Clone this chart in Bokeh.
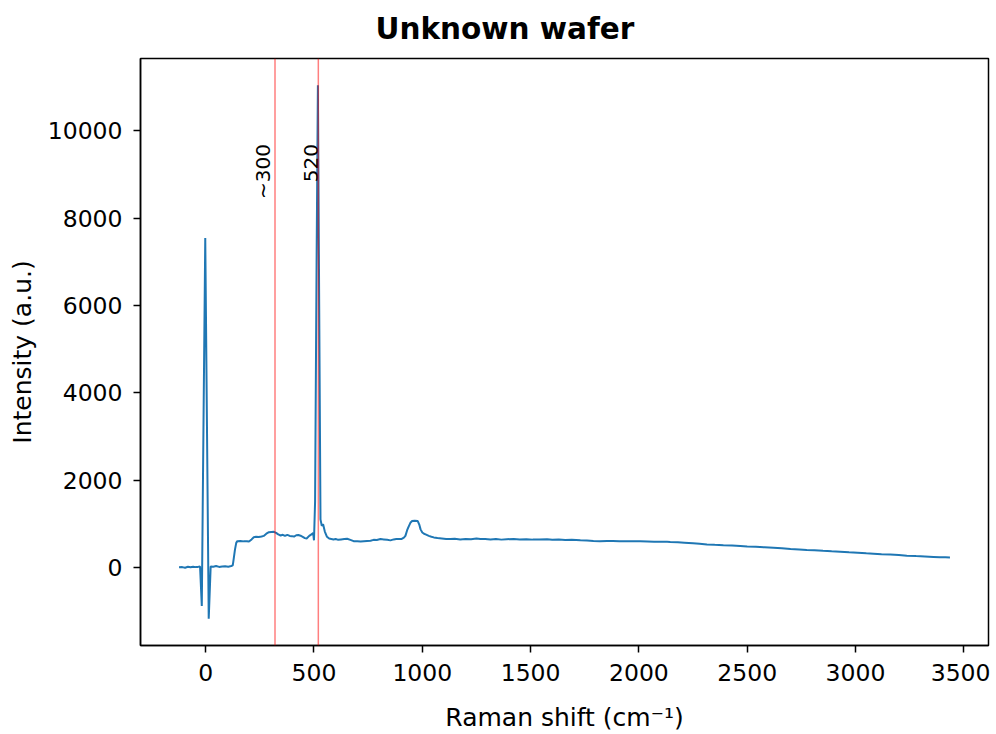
from math import pi
from bokeh.plotting import figure
from bokeh.models import Range1d, Span, SingleIntervalTicker
from bokeh.core.properties import value
from bokeh.embed import file_html
from bokeh.resources import INLINE

# ---- data ----
raman_shift = [
    -123, -108, -95, -82, -70, -58, -46, -36, -26, -18, -2, 14, 23, 35, 48, 62, 76, 90, 104, 118, 125,
    128, 135, 141, 146, 160, 175, 190, 200, 212, 222, 232, 245, 258, 268, 280, 292, 303, 315, 325,
    335, 346, 356, 366, 377, 388, 398, 408, 418, 428, 438, 448, 458, 466, 478, 490, 496, 500,
    505, 512, 518, 524, 530, 536, 542, 550, 560, 570, 580, 590, 600, 612, 625, 640, 653, 668,
    683, 700, 715, 730, 745, 761, 775, 790, 807, 822, 838, 853, 868, 880, 892, 905, 915, 922,
    930, 938, 945, 953, 965, 979, 986, 992, 1000, 1008, 1015, 1030, 1042, 1053, 1070, 1090,
    1110, 1130, 1150, 1175, 1200, 1225, 1250, 1268, 1290, 1315, 1340, 1365, 1390, 1422, 1450,
    1480, 1510, 1540, 1576, 1600, 1630, 1660, 1690, 1730, 1760, 1790, 1820, 1853, 1880, 1910,
    1940, 1970, 2006, 2040, 2070, 2099, 2130, 2145, 2180, 2210, 2250, 2280, 2314, 2350, 2390,
    2430, 2468, 2500, 2540, 2580, 2621, 2660, 2700, 2740, 2775, 2810, 2850, 2890, 2929, 2970,
    3010, 3050, 3083, 3120, 3160, 3200, 3237, 3280, 3320, 3360, 3390, 3415, 3436,
]
intensity = [
    0, 5, -10, 12, 0, 15, 5, 10, 20, -885, 7545, -1180, 20, 15, 30, 10, 20, 25, 15, 30, 45,
    150, 400, 560, 600, 605, 595, 600, 590, 640, 690, 700, 695, 705, 720, 770, 805, 810, 815, 790,
    755, 730, 745, 720, 745, 720, 715, 705, 735, 740, 725, 700, 670, 660, 720, 760, 790, 620,
    1500, 7000, 11050, 6000, 1100, 950, 990, 820, 700, 660, 650, 640, 650, 630, 640, 650, 656, 630,
    600, 595, 590, 600, 605, 610, 630, 625, 648, 640, 630, 618, 640, 650, 648, 650, 680, 720,
    850, 946, 1020, 1060, 1070, 1060, 980, 870, 800, 770, 755, 720, 700, 686, 670, 660,
    650, 648, 655, 640, 650, 645, 660, 648, 650, 640, 650, 635, 645, 650, 640,
    645, 635, 640, 645, 630, 640, 625, 630, 618, 615, 605, 600, 603, 605, 600,
    598, 595, 595, 592, 588, 587, 584, 580, 572, 563, 550, 540, 526, 515, 505,
    498, 488, 478, 470, 460, 450, 440, 420, 410, 397, 390, 378, 368, 359, 345,
    335, 322, 313, 300, 292, 280, 268, 258, 250, 238, 229, 232, 228,
]
marker_positions = [320, 520]
marker_labels = ["~300", "520"]
marker_label_top = [9700, 9700]

x_ticks_interval = 500
y_ticks_interval = 2000

# matplotlib-like 5% margins
xmin, xmax = min(raman_shift), max(raman_shift)
ymin, ymax = min(intensity), max(intensity)
xpad = 0.05 * (xmax - xmin)
ypad = 0.05 * (ymax - ymin)

FONT = "DejaVu Sans"

p = figure(
    width=990, height=734,
    output_backend="svg", toolbar_location=None,
    x_range=Range1d(xmin - xpad, xmax + xpad),
    y_range=Range1d(ymin - ypad, ymax + ypad),
    min_border_left=140, min_border_right=2,
    min_border_top=57, min_border_bottom=86,
    title="Unknown wafer",
)

p.title.text_font = FONT
p.title.text_font_size = "29.5px"
p.title.text_font_style = "bold"
p.title.text_color = "black"
p.title.align = "left"
p.title.vertical_align = "top"
p.title.offset = 235
p.title.standoff = 22

p.line(raman_shift, intensity, line_color="#1f77b4", line_width=2)

for xpos in marker_positions:
    p.add_layout(Span(location=xpos, dimension="height", line_color="red",
                      line_alpha=0.5, line_width=1.5))

p.text(x=marker_positions, y=marker_label_top, text=marker_labels, angle=pi / 2,
       text_align="right", text_baseline="bottom",
       text_font=value(FONT), text_font_size=value("20px"), text_color="black")

p.xaxis.ticker = SingleIntervalTicker(interval=x_ticks_interval, num_minor_ticks=0)
p.yaxis.ticker = SingleIntervalTicker(interval=y_ticks_interval, num_minor_ticks=0)

p.xaxis.axis_label = "Raman shift (cm\u207b\u00b9)"
p.yaxis.axis_label = "Intensity (a.u.)"

for ax in (p.xaxis, p.yaxis):
    ax.axis_label_text_font = FONT
    ax.axis_label_text_font_size = "25px"
    ax.axis_label_text_font_style = "normal"
    ax.axis_label_text_color = "black"
    ax.major_label_text_font = FONT
    ax.major_label_text_font_size = "23.5px"
    ax.major_label_text_color = "black"
    ax.major_tick_out = 7
    ax.major_tick_in = 0
    ax.minor_tick_out = 0
    ax.minor_tick_in = 0
    ax.major_tick_line_width = 1.5
    ax.major_tick_line_color = "black"
    ax.axis_line_width = 1.5
    ax.axis_line_color = "black"

p.xaxis.major_label_standoff = 11
p.xaxis.axis_label_standoff = 19
p.yaxis.major_label_standoff = 11
p.yaxis.axis_label_standoff = 8

p.grid.visible = False
p.outline_line_color = "black"
p.outline_line_width = 1.5
p.outline_line_alpha = 1.0
p.background_fill_color = "white"
p.border_fill_color = "white"

open("out.html", "w").write(file_html(p, INLINE))
